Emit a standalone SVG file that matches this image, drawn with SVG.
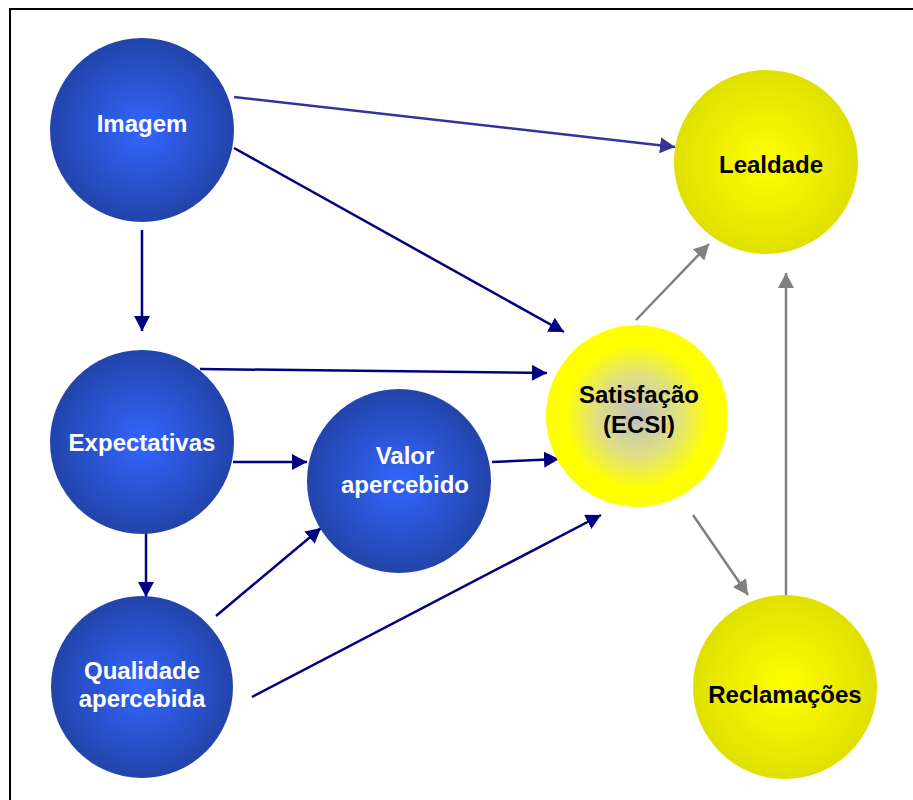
<svg xmlns="http://www.w3.org/2000/svg" width="913" height="800" viewBox="0 0 913 800">
<style>
.lbl{font-family:"Liberation Sans",Arial,sans-serif;font-weight:bold;font-size:24px;text-anchor:middle}
.w{fill:#ffffff}
.k{fill:#000000}
.navy{stroke:#000080;stroke-width:2.5;fill:none;marker-end:url(#an)}
.purp{stroke:#333399;stroke-width:2.5;fill:none;marker-end:url(#ap)}
.gray{stroke:#808080;stroke-width:2.5;fill:none;marker-end:url(#ag)}
</style>
<defs>
<radialGradient id="gBlue" cx="50%" cy="50%" r="50%">
<stop offset="0" stop-color="#3366ff"/>
<stop offset="1" stop-color="#2244aa"/>
</radialGradient>
<radialGradient id="gYel" cx="50%" cy="50%" r="50%">
<stop offset="0" stop-color="#ffff00"/>
<stop offset="1" stop-color="#e0e000"/>
</radialGradient>
<radialGradient id="gSat" cx="50%" cy="50%" r="50%">
<stop offset="0" stop-color="#c0c0c0"/>
<stop offset="0.45" stop-color="#e0e080"/>
<stop offset="0.8" stop-color="#ffff00"/>
<stop offset="1" stop-color="#ffff00"/>
</radialGradient>
<marker id="an" markerUnits="userSpaceOnUse" markerWidth="16" markerHeight="16" refX="15" refY="8" orient="auto">
<path d="M0,0 L15,8 L0,16 Z" fill="#000080"/>
</marker>
<marker id="ap" markerUnits="userSpaceOnUse" markerWidth="16" markerHeight="16" refX="15" refY="8" orient="auto">
<path d="M0,0 L15,8 L0,16 Z" fill="#333399"/>
</marker>
<marker id="ag" markerUnits="userSpaceOnUse" markerWidth="16" markerHeight="16" refX="15" refY="8" orient="auto">
<path d="M0,0 L15,8 L0,16 Z" fill="#808080"/>
</marker>
</defs>
<rect x="0" y="0" width="913" height="800" fill="#ffffff"/>
<rect x="10" y="9" width="920" height="810" fill="none" stroke="#000000" stroke-width="2"/>

<g id="connectors">
<line class="purp" x1="234" y1="97" x2="675" y2="147"/>
<line class="navy" x1="234" y1="148" x2="564" y2="332"/>
<line class="navy" x1="142" y1="230" x2="142" y2="331"/>
<line class="navy" x1="200" y1="369" x2="547" y2="373"/>
<line class="navy" x1="233" y1="462" x2="307" y2="462"/>
<line class="navy" x1="492" y1="462" x2="559" y2="459"/>
<line class="navy" x1="146" y1="532" x2="146" y2="597"/>
<line class="navy" x1="216" y1="616" x2="321" y2="528"/>
<line class="navy" x1="252" y1="697" x2="601" y2="515"/>
<line class="gray" x1="636" y1="320" x2="709" y2="244"/>
<line class="gray" x1="693" y1="515" x2="748" y2="595"/>
<line class="gray" x1="786" y1="595" x2="786" y2="273"/>
</g>

<g id="imagem">
<circle cx="142" cy="130" r="92" fill="url(#gBlue)"/>
<text class="lbl w" x="142" y="132">Imagem</text>
</g>
<g id="expectativas">
<circle cx="142" cy="442" r="92" fill="url(#gBlue)"/>
<text class="lbl w" x="142" y="451">Expectativas</text>
</g>
<g id="qualidade">
<circle cx="142" cy="687" r="91" fill="url(#gBlue)"/>
<text class="lbl w" x="142" y="679">Qualidade</text>
<text class="lbl w" x="142" y="707">apercebida</text>
</g>
<g id="valor">
<circle cx="399" cy="481" r="92" fill="url(#gBlue)"/>
<text class="lbl w" x="405" y="464">Valor</text>
<text class="lbl w" x="405" y="493">apercebido</text>
</g>
<g id="satisfacao">
<circle cx="637" cy="416" r="91" fill="url(#gSat)"/>
<text class="lbl k" x="639" y="403">Satisfação</text>
<text class="lbl k" x="639" y="433">(ECSI)</text>
</g>
<g id="lealdade">
<circle cx="766" cy="162" r="92" fill="url(#gYel)"/>
<text class="lbl k" x="771" y="173">Lealdade</text>
</g>
<g id="reclamacoes">
<circle cx="785" cy="687" r="92" fill="url(#gYel)"/>
<text class="lbl k" x="785" y="703">Reclamações</text>
</g>
</svg>
